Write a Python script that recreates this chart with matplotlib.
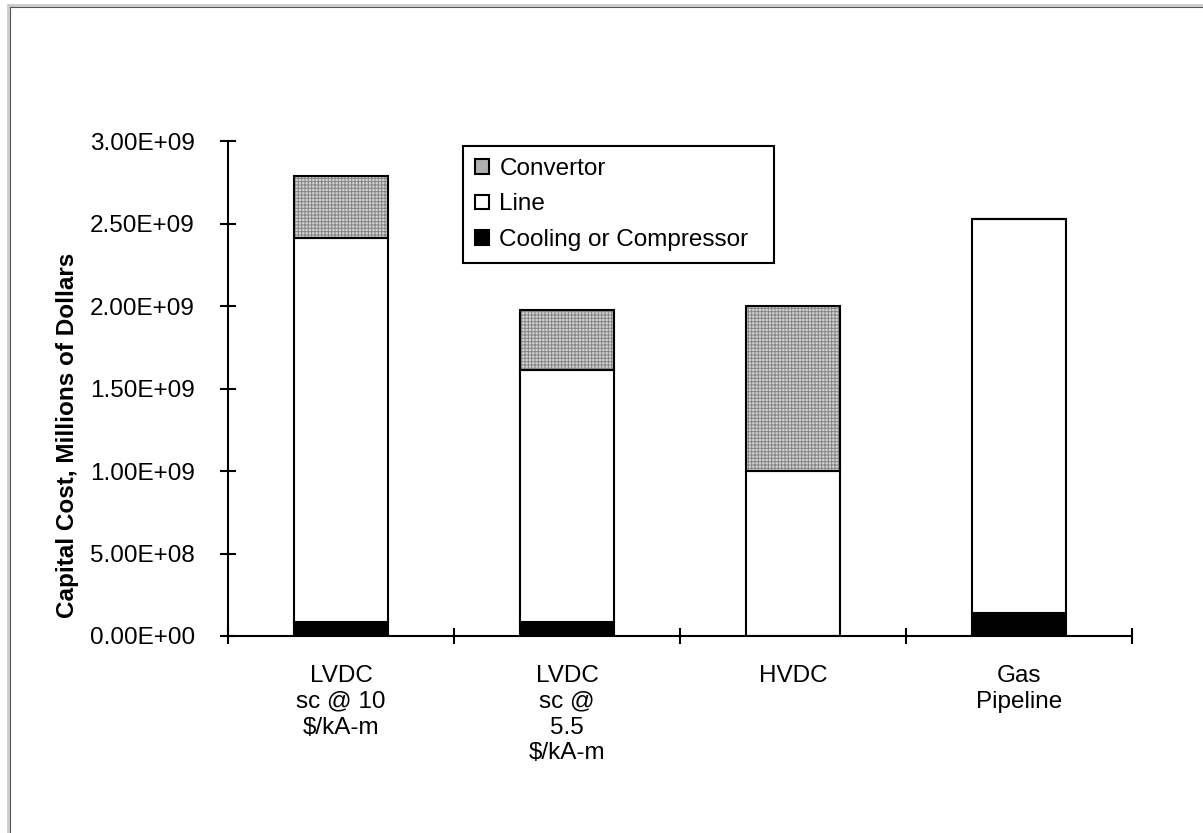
import matplotlib
matplotlib.use("Agg")
import matplotlib.pyplot as plt
import numpy as np
from matplotlib.lines import Line2D
from matplotlib.patches import Patch
from matplotlib.ticker import FixedLocator, FuncFormatter

plt.rcParams["font.family"] = ["Liberation Sans", "DejaVu Sans"]
plt.rcParams["hatch.linewidth"] = 0.7

# capital cost by component, dollars
categories = ["LVDC\nsc @ 10\n$/kA-m", "LVDC\nsc @\n5.5\n$/kA-m", "HVDC", "Gas\nPipeline"]
cooling = [8.5e7, 8.5e7, 0.0, 1.4e8]
line_cost = [2.33e9, 1.53e9, 1.0e9, 2.39e9]
convertor = [3.7e8, 3.6e8, 1.0e9, 0.0]
y_ticks = [0, 5e8, 1e9, 1.5e9, 2e9, 2.5e9, 3e9]

FS = 17.5
x = np.arange(len(categories))
width = 0.42

fig = plt.figure(figsize=(12.03, 8.33), dpi=100)
ax = fig.add_axes([0.1895, 0.2365, 0.7515, 0.5942])

bottom_line = np.array(cooling)
bottom_conv = bottom_line + np.array(line_cost)

ax.bar(x, cooling, width, color="black", edgecolor="black", linewidth=1.5, zorder=2)
ax.bar(x, line_cost, width, bottom=bottom_line, color="white", edgecolor="black",
       linewidth=1.5, zorder=2)
# grey mesh fill for the convertor, then a black outline on top
ax.bar(x, convertor, width, bottom=bottom_conv, color="#d2d2d2", edgecolor="#858585",
       hatch="+++++", linewidth=0, zorder=2)
ax.bar(x, convertor, width, bottom=bottom_conv, fill=False, edgecolor="black",
       linewidth=1.5, zorder=3)

ax.set_xlim(-0.5, len(categories) - 0.5)
ax.set_ylim(0, 3e9)

for side in ("top", "right"):
    ax.spines[side].set_visible(False)
for side in ("left", "bottom"):
    ax.spines[side].set_linewidth(1.5)

ax.set_yticks(y_ticks)
ax.yaxis.set_major_formatter(FuncFormatter(lambda v, _: f"{v:.2E}"))
ax.tick_params(axis="y", direction="inout", length=12, width=1.5, pad=18, labelsize=FS)

ax.set_xticks(x)
ax.set_xticklabels(categories, linespacing=1.22)
ax.xaxis.set_minor_locator(FixedLocator(np.arange(len(categories) + 1) - 0.5))
ax.tick_params(axis="x", which="major", length=0, pad=21, labelsize=FS)
ax.tick_params(axis="x", which="minor", direction="inout", length=12, width=1.5)

ax.set_ylabel("Capital Cost, Millions of Dollars", fontsize=FS, fontweight="bold")
ax.yaxis.set_label_coords(-0.165, 0.405)

handles = [
    Patch(facecolor="#b0b0b0", edgecolor="black", linewidth=1.5, label="Convertor"),
    Patch(facecolor="white", edgecolor="black", linewidth=1.5, label="Line"),
    Patch(facecolor="black", edgecolor="black", linewidth=1.5, label="Cooling or Compressor"),
]
leg = ax.legend(handles=handles, loc="upper left", bbox_to_anchor=(0.26, 0.79, 0.344, 0.2),
                mode="expand", borderaxespad=0, fancybox=False, framealpha=1,
                edgecolor="black", fontsize=FS, handlelength=0.55, handleheight=0.55,
                handletextpad=0.45, labelspacing=0.55, borderpad=0.5)
leg.get_frame().set_linewidth(1.5)

# outer chart border, running off the right and bottom edges
W, H = 1203, 833
fig.add_artist(Line2D([7.5 / W, 7.5 / W], [0, 1 - 4.5 / H], color="#cccccc", linewidth=2,
                      transform=fig.transFigure))
fig.add_artist(Line2D([7.5 / W, 1], [1 - 4.5 / H, 1 - 4.5 / H], color="#cccccc", linewidth=2,
                      transform=fig.transFigure))
fig.add_artist(Line2D([9.5 / W, 9.5 / W], [0, 1 - 6.5 / H], color="#555555", linewidth=0.8,
                      transform=fig.transFigure))
fig.add_artist(Line2D([9.5 / W, 1], [1 - 6.5 / H, 1 - 6.5 / H], color="#555555", linewidth=0.8,
                      transform=fig.transFigure))

fig.savefig("out.png", dpi=100)
